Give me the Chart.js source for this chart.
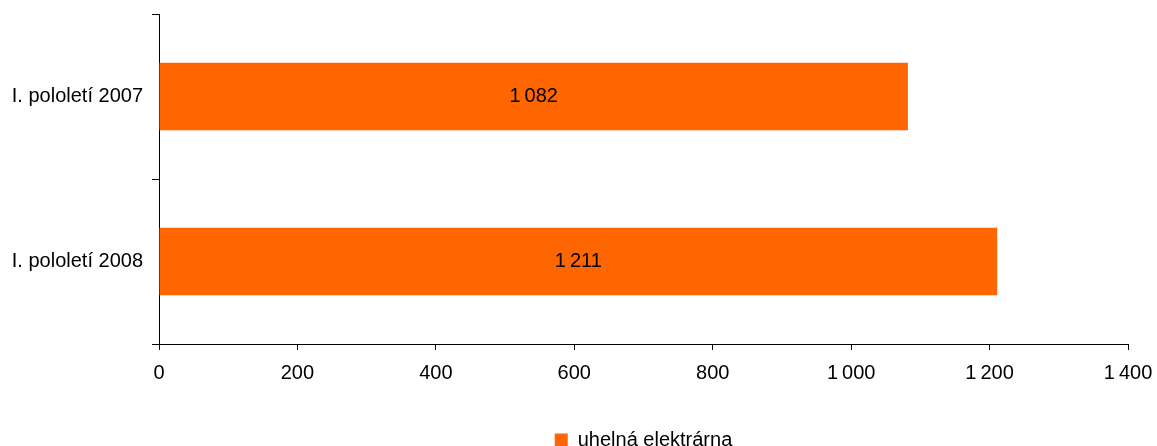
<!DOCTYPE html>
<html lang="cs">
<head>
    <meta charset="UTF-8">
    <title>uhelná elektrárna</title>
    <script src="https://cdn.jsdelivr.net/npm/chart.js"></script>
    <style>
        html, body { margin: 0; padding: 0; background: #fff; }
        #box { width: 1157px; height: 446px; }
    </style>
</head>
<body>
    <div id="box">
        <canvas id="grafCanvas" width="1157" height="446"></canvas>
    </div>

<script>
    // data
    var obdobi = ['I. pololetí 2007', 'I. pololetí 2008']
    var hodnoty = [1082, 1211]
    var nazevRady = 'uhelná elektrárna'
    var osaMax = 1400
    var osaKrok = 200

    // tisíce oddělené úzkou mezerou
    function formatCislo(v) {
        return String(v).replace(/\B(?=(\d{3})+(?!\d))/g, '\u2009')
    }

    // popisky hodnot uprostřed sloupců
    var popiskyPlugin = {
        id: 'popisky',
        afterDatasetsDraw: function (chart) {
            var c = chart.ctx
            c.save()
            c.font = '20px "Liberation Sans", Arial, sans-serif'
            c.fillStyle = '#000'
            c.textAlign = 'center'
            c.textBaseline = 'middle'
            chart.getDatasetMeta(0).data.forEach(function (bar, i) {
                c.fillText(formatCislo(hodnoty[i]), (bar.x + bar.base) / 2, bar.y)
            })
            c.restore()
        }
    }

    Chart.defaults.font.family = '"Liberation Sans", Arial, sans-serif'
    Chart.defaults.font.size = 20
    Chart.defaults.color = '#000'

    const ctx = document.getElementById('grafCanvas')

    var graf = new Chart(ctx, {
        type: 'bar',
        data: {
            labels: obdobi,
            datasets: [{
                label: nazevRady,
                data: hodnoty,
                backgroundColor: '#FF6600',
                borderWidth: 0,
                categoryPercentage: 1,
                barPercentage: 0.41
            }]
        },
        options: {
            indexAxis: 'y',
            responsive: false,
            animation: false,
            layout: { padding: { left: 0, right: 29, top: 14, bottom: -14 } },
            plugins: {
                legend: {
                    position: 'bottom',
                    fullSize: false,
                    labels: {
                        boxWidth: 13,
                        boxHeight: 13,
                        padding: 2,
                        font: { size: 20 }
                    }
                },
                tooltip: { enabled: false }
            },
            scales: {
                y: {
                    afterFit: function (scale) {
                        scale.width = 159
                        scale.paddingTop = 0
                        scale.paddingBottom = 0
                    },
                    grid: { offset: true, drawOnChartArea: false, tickLength: 7, color: '#000' },
                    border: { color: '#000' },
                    ticks: { padding: 9, color: '#000' }
                },
                x: {
                    min: 0,
                    max: osaMax,
                    afterFit: function (scale) {
                        scale.height = 84
                        scale.paddingLeft = 0
                        scale.paddingRight = 0
                    },
                    grid: { drawOnChartArea: false, tickLength: 6, color: '#000' },
                    border: { color: '#000' },
                    ticks: {
                        stepSize: osaKrok,
                        padding: 11,
                        color: '#000',
                        maxRotation: 0,
                        callback: function (v) { return formatCislo(v) }
                    }
                }
            }
        },
        plugins: [popiskyPlugin]
    })
</script>
</body>
</html>
